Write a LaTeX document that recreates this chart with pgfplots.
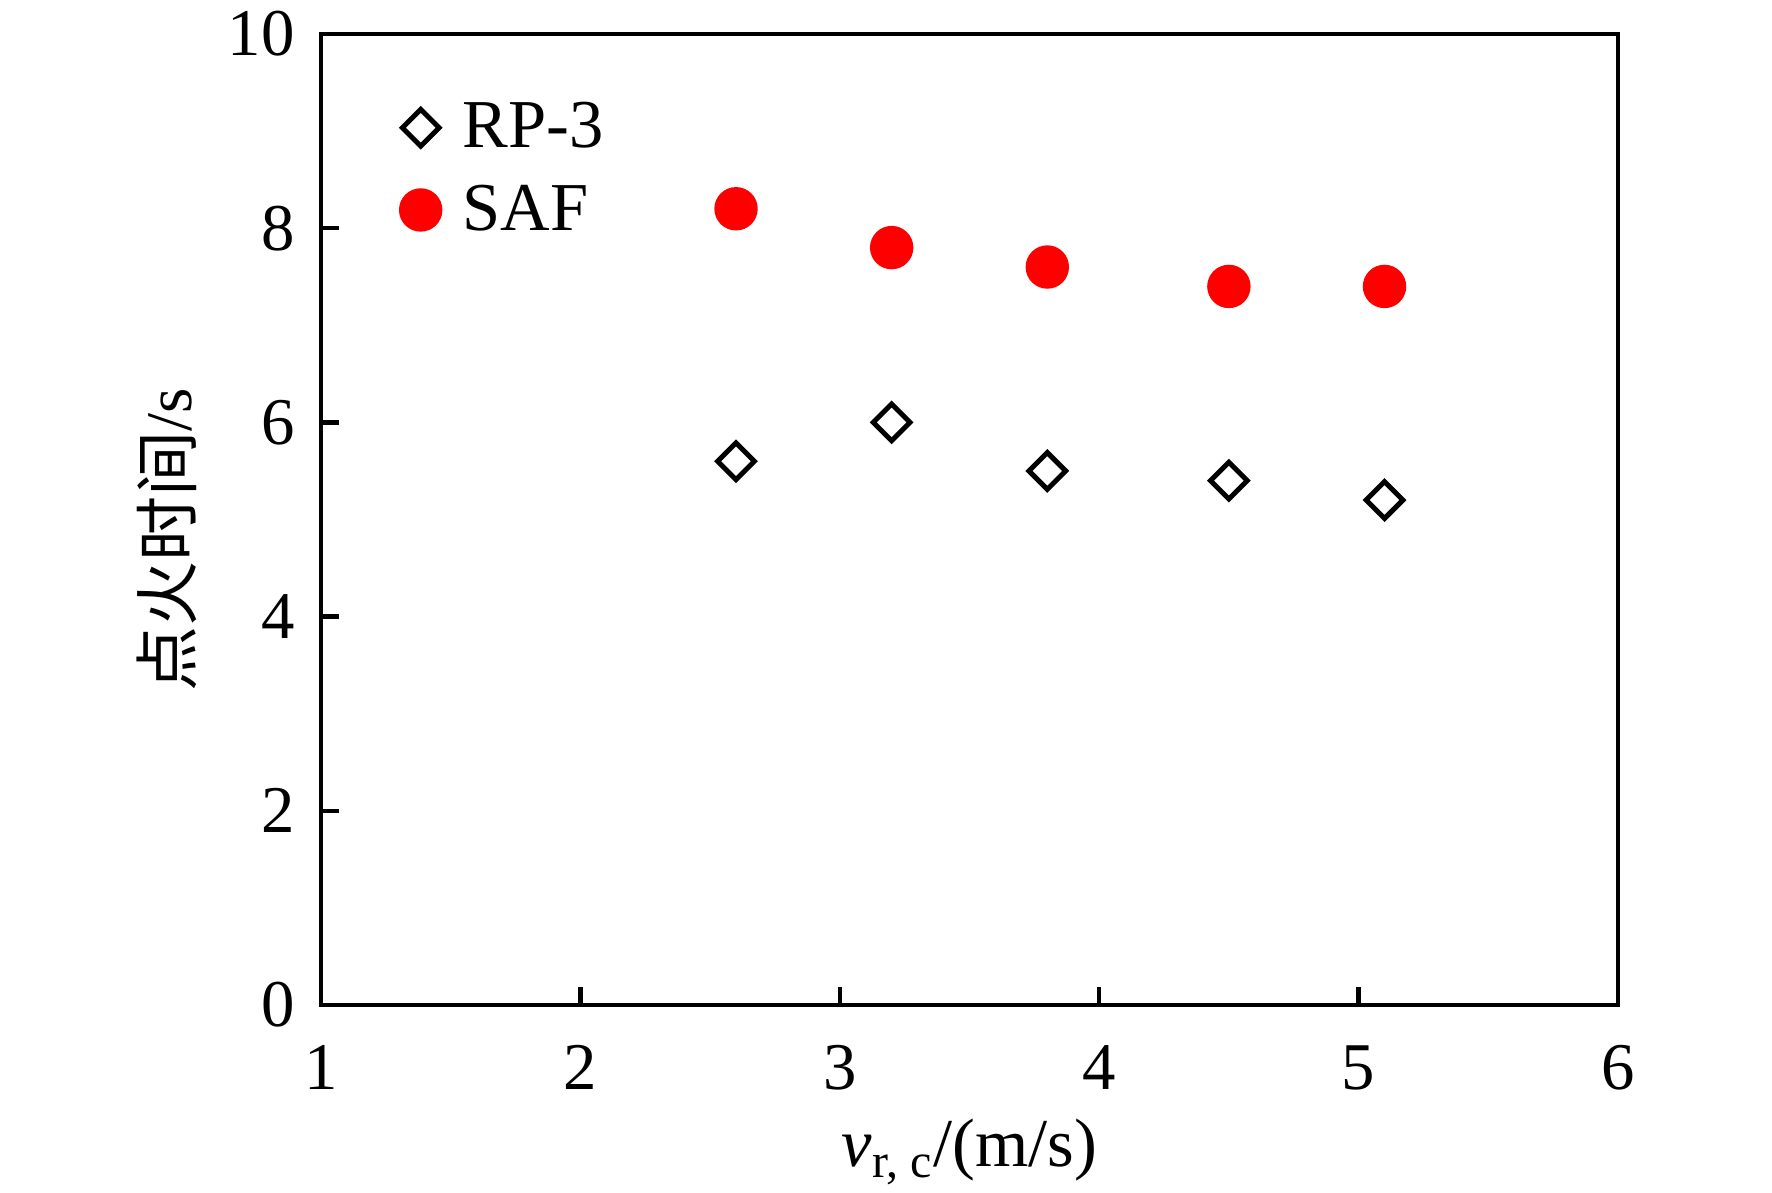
\documentclass[border=0pt]{standalone}
\usepackage{pgfplots}
\pgfplotsset{compat=1.18}
\usepackage{fontspec}
\setmainfont{Liberation Serif}
\newfontfamily\cjk{Noto Sans CJK SC}
\begin{document}
\begin{tikzpicture}
\path[use as bounding box] (0,0) rectangle (177.2mm,119.3mm);
\begin{axis}[
  at={(32.1mm,18.8mm)}, anchor=south west,
  scale only axis, width=129.7mm, height=97.1mm,
  xmin=1, xmax=6, ymin=0, ymax=10,
  xtick={1,2,3,4,5,6}, ytick={0,2,4,6,8,10},
  xtick pos=bottom, ytick pos=left,
  tick align=inside, major tick length=1.8mm,
  axis line style={line width=0.45mm},
  every tick/.style={black, line width=0.45mm},
  /pgf/number format/assume math mode=true,
  tick label style={font=\fontsize{19}{23}\selectfont},
  xticklabel style={yshift=-2.8mm},
  yticklabel style={xshift=-1.4mm},
  xlabel={\textit{v}\textsubscript{r, c}/(m/s)},
  ylabel={{\cjk 点火时间}/s},
  x label style={at={(axis description cs:0.5,0)}, anchor=base, yshift=-16.2mm, font=\fontsize{19.5}{23}\selectfont},
  y label style={at={(axis description cs:-0.1187,0.479)}, anchor=center, font=\fontsize{18.5}{23}\selectfont},
  legend style={at={(axis description cs:0.052,0.9447)}, anchor=north west, draw=none, fill=none,
     font=\fontsize{19.5}{23}\selectfont, row sep=1.75mm, column sep=1.4mm},
  legend cell align=left,
]
\addplot[only marks, mark=square, mark size=1.3mm, mark options={rotate=45, line width=0.5mm, draw=black, fill=white}]
  coordinates {(2.6,5.6) (3.2,6.0) (3.8,5.5) (4.5,5.4) (5.1,5.2)};
\addlegendentry{RP-3}
\addplot[only marks, mark=*, mark size=2.1mm, mark options={draw=red, fill=red}]
  coordinates {(2.6,8.2) (3.2,7.8) (3.8,7.6) (4.5,7.4) (5.1,7.4)};
\addlegendentry{SAF}
\end{axis}
\end{tikzpicture}
\end{document}
